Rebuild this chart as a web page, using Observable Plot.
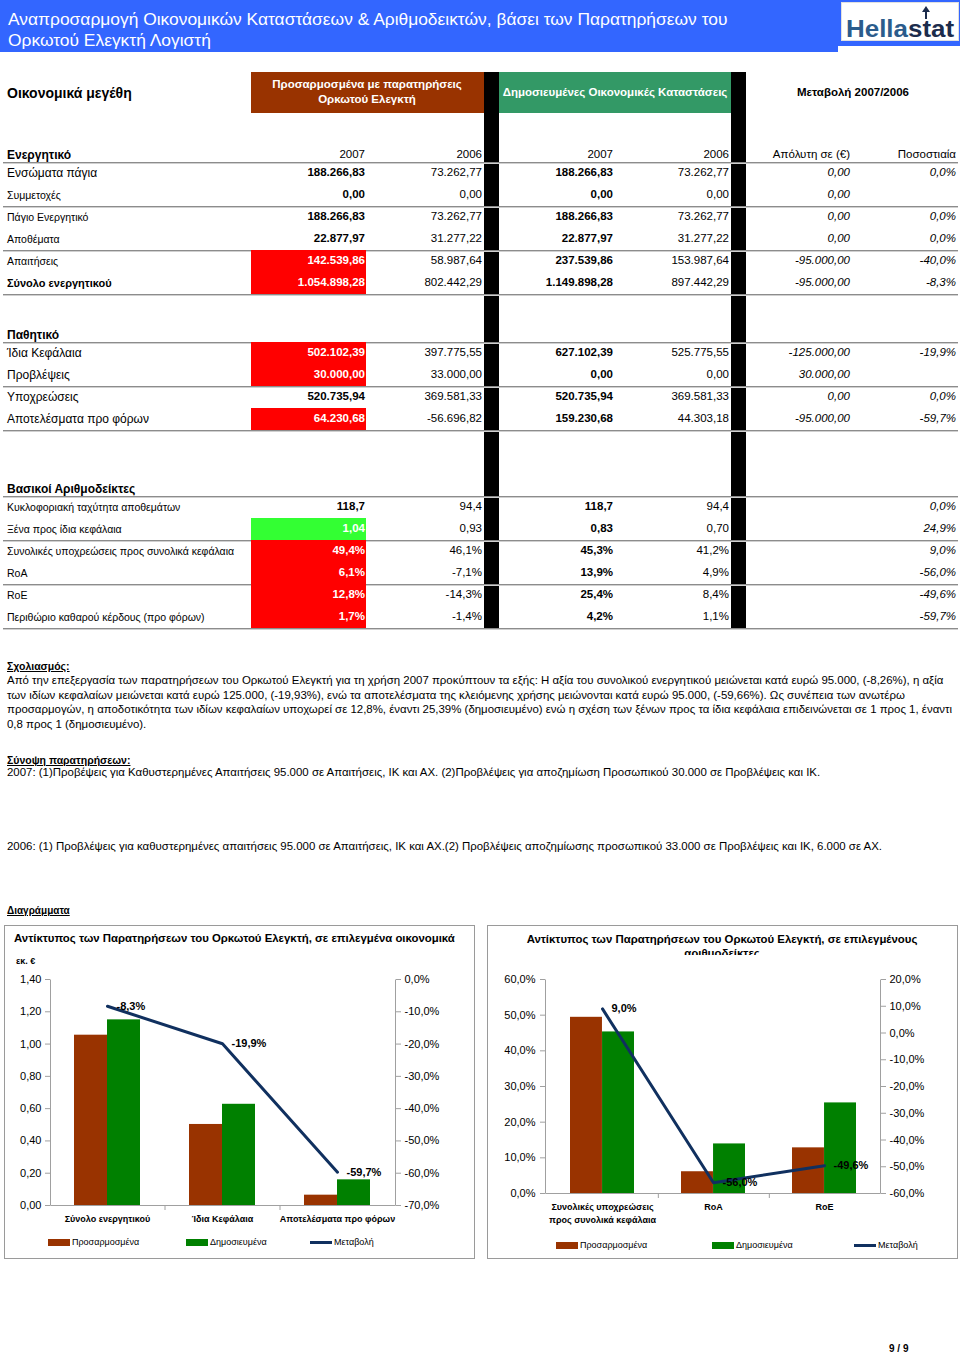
<!DOCTYPE html>
<html><head><meta charset="utf-8">
<script src="https://cdn.jsdelivr.net/npm/d3@7"></script>
<script src="https://cdn.jsdelivr.net/npm/@observablehq/plot@0.6"></script>
<style>
body{margin:0;background:#fff;}
#page{position:relative;width:960px;height:1355px;overflow:hidden;font-family:"Liberation Sans",Arial,sans-serif;color:#000;}
.t{position:absolute;white-space:nowrap;line-height:1.2;}
.r{position:absolute;}
.box{position:absolute;border:1px solid #9a9a9a;box-sizing:border-box;background:#fff;}
.plotwrap{position:absolute;}
</style></head><body><div id="page"></div>
<script>
// ---------------- DATA ----------------
const assetLabels = ["Ενσώματα πάγια","Συμμετοχές","Πάγιο Ενεργητικό","Αποθέματα","Απαιτήσεις","Σύνολο ενεργητικού"];
const assetAdj2007 = [188266.83, 0, 188266.83, 22877.97, 142539.86, 1054898.28];
const assetAdj2006 = [73262.77, 0, 73262.77, 31277.22, 58987.64, 802442.29];
const assetPub2007 = [188266.83, 0, 188266.83, 22877.97, 237539.86, 1149898.28];
const assetPub2006 = [73262.77, 0, 73262.77, 31277.22, 153987.64, 897442.29];
const assetAbs = [0, 0, 0, 0, -95000, -95000];
const assetPct = [0.0, null, 0.0, 0.0, -40.0, -8.3];

const liabLabels = ["Ίδια Κεφάλαια","Προβλέψεις","Υποχρεώσεις","Αποτελέσματα προ φόρων"];
const liabAdj2007 = [502102.39, 30000, 520735.94, 64230.68];
const liabAdj2006 = [397775.55, 33000, 369581.33, -56696.82];
const liabPub2007 = [627102.39, 0, 520735.94, 159230.68];
const liabPub2006 = [525775.55, 0, 369581.33, 44303.18];
const liabAbs = [-125000, 30000, 0, -95000];
const liabPct = [-19.9, null, 0.0, -59.7];

const ratioLabels = ["Κυκλοφοριακή ταχύτητα αποθεμάτων","Ξένα προς ίδια κεφάλαια","Συνολικές υποχρεώσεις προς συνολικά κεφάλαια","RoA","RoE","Περιθώριο καθαρού κέρδους (προ φόρων)"];
const ratioAdj2007 = [118.7, 1.04, 49.4, 6.1, 12.8, 1.7];
const ratioAdj2006 = [94.4, 0.93, 46.1, -7.1, -14.3, -1.4];
const ratioPub2007 = [118.7, 0.83, 45.3, 13.9, 25.4, 4.2];
const ratioPub2006 = [94.4, 0.70, 41.2, 4.9, 8.4, 1.1];
const ratioPct = [0.0, 24.9, 9.0, -56.0, -49.6, -59.7];
const ratioKinds = ["d1","d2","pct","pct","pct","pct"];

const chart1Categories = ["Σύνολο ενεργητικού","Ίδια Κεφάλαια","Αποτελέσματα προ φόρων"];
const chart1Adjusted = [1.055, 0.502, 0.064];
const chart1Published = [1.150, 0.627, 0.159];
const chart1Change = [-8.3, -19.9, -59.7];
const chart1LeftTicks = [0, 0.2, 0.4, 0.6, 0.8, 1.0, 1.2, 1.4];
const chart1RightTicks = [0, -10, -20, -30, -40, -50, -60, -70];

const chart2Categories = ["Συνολικές υποχρεώσεις\nπρος συνολικά κεφάλαια","RoA","RoE"];
const chart2Adjusted = [49.4, 6.1, 12.8];
const chart2Published = [45.3, 13.9, 25.4];
const chart2Change = [9.0, -56.0, -49.6];
const chart2LeftTicks = [0, 10, 20, 30, 40, 50, 60];
const chart2RightTicks = [20, 10, 0, -10, -20, -30, -40, -50, -60];

// ---------------- HELPERS ----------------
const page = document.getElementById("page");
const loc = d3.formatLocale({decimal: ",", thousands: ".", grouping: [3], currency: ["", "€"], minus: "-"});
const fMoney = loc.format(",.2f");
const f1 = loc.format(".1f");
const f2 = loc.format(".2f");
const fPct = v => f1(v) + "%";

function T(txt, x, y, o = {}) {
  const s = o.size || 12;
  const d = document.createElement("div");
  d.className = "t";
  d.textContent = txt;
  d.style.fontSize = s + "px";
  if (o.bold) d.style.fontWeight = "bold";
  if (o.italic) d.style.fontStyle = "italic";
  if (o.underline) d.style.textDecoration = "underline";
  d.style.color = o.color || "#000";
  d.style.top = (y - 0.59 * s) + "px";
  if (o.anchor === "right") d.style.right = (960 - x) + "px";
  else if (o.anchor === "center") { d.style.left = (x - 400) + "px"; d.style.width = "800px"; d.style.textAlign = "center"; }
  else d.style.left = x + "px";
  page.appendChild(d);
  return d;
}
function R(x, y, w, h, c) {
  const d = document.createElement("div");
  d.className = "r";
  Object.assign(d.style, {left: x + "px", top: y + "px", width: w + "px", height: h + "px", background: c});
  page.appendChild(d);
  return d;
}
function sep(y) { R(3, y, 955, 1, "#8c8c8c"); R(3, y + 1, 955, 1, "#d0d0d0"); }

// ---------------- HEADER ----------------
R(0, 0, 838, 52, "#3366FF");
R(838, 0, 122, 46, "#3366FF");
T("Αναπροσαρμογή Οικονομικών Καταστάσεων & Αριθμοδεικτών, βάσει των Παρατηρήσεων του", 8, 19, {size: 17.4, color: "#fff"});
T("Ορκωτού Ελεγκτή Λογιστή", 8, 40, {size: 17.4, color: "#fff"});
const logo = document.createElement("div");
logo.className = "box";
Object.assign(logo.style, {left: "841px", top: "2px", width: "118px", height: "39px", borderColor: "#e0e0e0"});
page.appendChild(logo);
const lt = T("", 846, 29, {size: 24, bold: true});
lt.innerHTML = '<span style="color:#2b5c8c">Hella</span><span style="color:#1c2c4c">stat</span>';
lt.style.transform = "scaleX(1.08)"; lt.style.transformOrigin = "left center";
// small arrow of the logo
R(925, 11, 2, 8, "#1c2c4c");
const ah = document.createElement("div");
Object.assign(ah.style, {position: "absolute", left: "922px", top: "6px", width: 0, height: 0,
  borderLeft: "4px solid transparent", borderRight: "4px solid transparent", borderBottom: "6px solid #1c2c4c"});
page.appendChild(ah);

// column header band
R(251, 72, 233, 41, "#993300");
R(499, 72, 232, 41, "#339966");
R(484, 72, 15, 558, "#000");
R(731, 72, 15, 558, "#000");
T("Οικονομικά μεγέθη", 7, 93, {size: 14, bold: true});
T("Προσαρμοσμένα με παρατηρήσεις", 367, 85, {size: 11.5, bold: true, color: "#fff", anchor: "center"});
T("Ορκωτού Ελεγκτή", 367, 100, {size: 11.5, bold: true, color: "#fff", anchor: "center"});
T("Δημοσιευμένες Οικονομικές Καταστάσεις", 615, 93, {size: 11.5, bold: true, color: "#fff", anchor: "center"});
T("Μεταβολή 2007/2006", 853, 93, {size: 11.5, bold: true, anchor: "center"});

// ---------------- TABLE ----------------
const colRight = [365, 482, 613, 729, 850, 956];
const colBold = [true, false, true, false, false, false];
const colItalic = [false, false, false, false, true, true];
const numSize = 11.5;

function section(opt) {
  const {title, titleY, labels, labelSizes, labelBold, columns, highlight, headers} = opt;
  T(title, 7, titleY, {size: 12, bold: true});
  if (headers) headers.forEach((h, j) => T(h, colRight[j], titleY, {size: 11.5, anchor: "right"}));
  sep(titleY + 7);
  labels.forEach((lab, i) => {
    const cy = titleY + 18 + 22 * i;
    if (highlight[i]) R(251, cy - 11, 115, 22, highlight[i]);
    T(lab, 7, cy, {size: labelSizes[i], bold: labelBold[i]});
    columns.forEach((col, j) => {
      if (!col) return;
      const txt = col[i];
      if (txt == null) return;
      T(txt, colRight[j], cy, {size: numSize, bold: colBold[j] || (j === 0 && highlight[i]), italic: colItalic[j], anchor: "right", color: (j === 0 && highlight[i]) ? "#fff" : "#000"});
    });
    if (i % 2 === 1) sep(cy + 11);
  });
}
const red = "#FF0000", green = "#33FF33";
section({
  title: "Ενεργητικό", titleY: 155, labels: assetLabels,
  labelSizes: [12, 10.5, 10.5, 10.5, 10.5, 11], labelBold: [false, false, false, false, false, true],
  headers: ["2007", "2006", "2007", "2006", "Απόλυτη σε (€)", "Ποσοστιαία"],
  highlight: [null, null, null, null, red, red],
  columns: [assetAdj2007.map(fMoney), assetAdj2006.map(fMoney), assetPub2007.map(fMoney), assetPub2006.map(fMoney), assetAbs.map(fMoney), assetPct.map(v => v == null ? null : fPct(v))]
});
section({
  title: "Παθητικό", titleY: 335, labels: liabLabels,
  labelSizes: [12, 12, 12, 12], labelBold: [false, false, false, false],
  highlight: [red, red, null, red],
  columns: [liabAdj2007.map(fMoney), liabAdj2006.map(fMoney), liabPub2007.map(fMoney), liabPub2006.map(fMoney), liabAbs.map(fMoney), liabPct.map(v => v == null ? null : fPct(v))]
});
const rf = (v, i) => ratioKinds[i] === "d1" ? f1(v) : ratioKinds[i] === "d2" ? f2(v) : fPct(v);
section({
  title: "Βασικοί Αριθμοδείκτες", titleY: 489, labels: ratioLabels,
  labelSizes: [10.5, 10.5, 10.5, 10.5, 10.5, 10.5], labelBold: [false, false, false, false, false, false],
  highlight: [null, green, red, red, red, red],
  columns: [ratioAdj2007.map(rf), ratioAdj2006.map(rf), ratioPub2007.map(rf), ratioPub2006.map(rf), null, ratioPct.map(fPct)]
});

// ---------------- TEXT ----------------
T("Σχολιασμός:", 7, 666, {size: 10.5, bold: true, underline: true});
const para = [
  "Από την επεξεργασία των παρατηρήσεων του Ορκωτού Ελεγκτή για τη χρήση 2007 προκύπτουν τα εξής: Η αξία του συνολικού ενεργητικού μειώνεται κατά ευρώ 95.000, (-8,26%), η αξία",
  "των ιδίων κεφαλαίων μειώνεται κατά ευρώ 125.000, (-19,93%), ενώ τα αποτελέσματα της κλειόμενης χρήσης μειώνονται κατά ευρώ 95.000, (-59,66%). Ως συνέπεια των ανωτέρω",
  "προσαρμογών, η αποδοτικότητα των ιδίων κεφαλαίων υποχωρεί σε 12,8%, έναντι 25,39% (δημοσιευμένο) ενώ η σχέση των ξένων προς τα ίδια κεφάλαια επιδεινώνεται σε 1 προς 1, έναντι",
  "0,8 προς 1 (δημοσιευμένο)."
];
para.forEach((l, i) => T(l, 7, 681 + 14.5 * i, {size: 11.45}));
T("Σύνοψη παρατηρήσεων:", 7, 760, {size: 10.5, bold: true, underline: true});
T("2007: (1)Προβέψεις για Καθυστερημένες Απαιτήσεις 95.000 σε Απαιτήσεις, ΙΚ και ΑΧ. (2)Προβλέψεις για αποζημίωση Προσωπικού 30.000 σε Προβλέψεις και ΙΚ.", 7, 773, {size: 11.45});
T("2006: (1) Προβλέψεις για καθυστερημένες απαιτήσεις 95.000 σε Απαιτήσεις, ΙΚ και ΑΧ.(2) Προβλέψεις αποζημίωσης προσωπικού 33.000 σε Προβλέψεις και ΙΚ, 6.000 σε ΑΧ.", 7, 847, {size: 11.45});
T("Διαγράμματα", 7, 911, {size: 10, bold: true, underline: true});

// ---------------- CHARTS ----------------
const BROWN = "#993300", GREEN = "#008000", NAVY = "#10305f", AXIS = "#a0a0a0";
const PI = 0.426, PO = PI / 2;

function dualChart(o) {
  const {cats, adj, pub, chg, yDomain, yTicks, yFmt, rDomain, rTicks, width, height, mL, mR, mT, mB, leftPad, xPad} = o;
  const W = width - mL - mR, H = height - mT - mB;
  const toY = r => yDomain[0] + (r - rDomain[0]) / (rDomain[1] - rDomain[0]) * (yDomain[1] - yDomain[0]);
  const fromY = y => rDomain[0] + (y - yDomain[0]) / (yDomain[1] - yDomain[0]) * (rDomain[1] - rDomain[0]);
  const rows = cats.map((c, i) => ({cat: c, adj: adj[i], pub: pub[i], chg: chg[i]}));
  const step = W / cats.length;
  const half = step * (1 - PI) / 2;
  return Plot.plot({
    width, height, marginLeft: mL, marginRight: mR, marginTop: mT, marginBottom: mB,
    style: {fontFamily: "'Liberation Sans', Arial, sans-serif", fontSize: "11px", color: "#000", background: "transparent", overflow: "visible"},
    x: {type: "band", domain: cats, paddingInner: PI, paddingOuter: PO, label: null},
    y: {domain: yDomain, label: null},
    marks: [
      Plot.barY(rows, {x: "cat", y: "adj", fill: BROWN, insetRight: half}),
      Plot.barY(rows, {x: "cat", y: "pub", fill: GREEN, insetLeft: half}),
      Plot.frame({stroke: AXIS, strokeDasharray: `0 ${W} ${2 * H + W}`}),
      // category boundary tick marks on the baseline
      Plot.ruleX(cats.slice(0, -1), {x: d => d, dx: step / 2, y1: yDomain[0], y2: yDomain[0], insetBottom: -5, stroke: AXIS}),
      Plot.axisY({ticks: yTicks, tickFormat: yFmt, tickSize: 5, tickPadding: leftPad, stroke: AXIS, fontSize: 11, label: null}),
      Plot.axisY({anchor: "right", ticks: rTicks.map(toY), tickFormat: d => fPct(Math.round(fromY(d) * 10) / 10), tickSize: 5, tickPadding: 4, stroke: AXIS, fontSize: 11, label: null}),
      Plot.axisX({tickSize: 0, tickPadding: xPad, fontWeight: "bold", fontSize: 9, lineHeight: 1.45, label: null}),
      Plot.line(rows, {x: "cat", y: d => toY(d.chg), stroke: NAVY, strokeWidth: 3}),
      Plot.text(rows, {x: "cat", y: d => toY(d.chg), text: d => fPct(d.chg), dx: 9, textAnchor: "start", fontWeight: "bold", fontSize: 11})
    ]
  });
}

function chartBox(x, w) {
  const b = document.createElement("div");
  b.className = "box";
  Object.assign(b.style, {left: x + "px", top: "925px", width: w + "px", height: "334px"});
  page.appendChild(b);
}
function legend(items, y) {
  items.forEach(it => {
    if (it.line) R(it.x, y - 1.5, 22, 3, NAVY);
    else R(it.x, y - 3.5, 22, 7, it.color);
    T(it.label, it.x + 24, y, {size: 9});
  });
}

// Left chart
chartBox(4, 471);
T("Αντίκτυπος των Παρατηρήσεων του Ορκωτού Ελεγκτή, σε επιλεγμένα οικονομικά", 14, 939, {size: 11.4, bold: true});
T("εκ. €", 16, 961, {size: 9, bold: true});
const p1 = dualChart({
  cats: chart1Categories, adj: chart1Adjusted, pub: chart1Published, chg: chart1Change,
  yDomain: [0, 1.4], yTicks: chart1LeftTicks, yFmt: d => f2(d),
  rDomain: [-70, 0], rTicks: chart1RightTicks,
  width: 470, height: 270, mL: 46, mR: 79, mT: 14, mB: 30, leftPad: 4, xPad: 7
});
const w1 = document.createElement("div"); w1.className = "plotwrap";
w1.style.left = "4px"; w1.style.top = "965px"; w1.appendChild(p1); page.appendChild(w1);
legend([{x: 48, color: BROWN, label: "Προσαρμοσμένα"}, {x: 186, color: GREEN, label: "Δημοσιευμένα"}, {x: 310, line: true, label: "Μεταβολή"}], 1242);

// Right chart
chartBox(487, 471);
const tt = T("", 722, 939, {size: 11.4, bold: true, anchor: "center"});
tt.innerHTML = "Αντίκτυπος των Παρατηρήσεων του Ορκωτού Ελεγκτή, σε επιλεγμένους<br>αριθμοδείκτες";
tt.style.overflow = "hidden"; tt.style.height = "23px"; tt.style.lineHeight = "14px"; tt.style.top = "932px";
const p2 = dualChart({
  cats: chart2Categories, adj: chart2Adjusted, pub: chart2Published, chg: chart2Change,
  yDomain: [0, 60], yTicks: chart2LeftTicks, yFmt: d => f1(d) + "%",
  rDomain: [-60, 20], rTicks: chart2RightTicks,
  width: 470, height: 270, mL: 58, mR: 77, mT: 14, mB: 42, leftPad: 5, xPad: 7
});
const w2 = document.createElement("div"); w2.className = "plotwrap";
w2.style.left = "487px"; w2.style.top = "965px"; w2.appendChild(p2); page.appendChild(w2);
legend([{x: 556, color: BROWN, label: "Προσαρμοσμένα"}, {x: 712, color: GREEN, label: "Δημοσιευμένα"}, {x: 854, line: true, label: "Μεταβολή"}], 1245);

T("9 / 9", 889, 1349, {size: 10, bold: true});
</script>
</body></html>
